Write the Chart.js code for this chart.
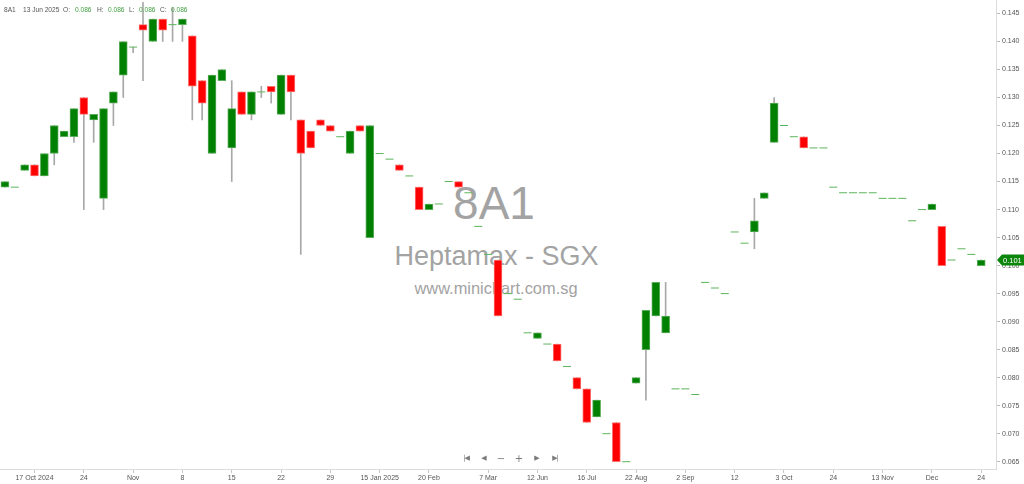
<!DOCTYPE html>
<html>
<head>
<meta charset="utf-8">
<script src="https://cdn.jsdelivr.net/npm/chart.js@4.4.1/dist/chart.umd.min.js"></script>
<style>
html,body{margin:0;padding:0;background:#fff;}
#wrap{position:relative;width:1024px;height:484px;overflow:hidden;background:#fff;}
#wm{position:absolute;left:0;top:0;width:996px;height:469px;z-index:0;font-family:'Liberation Sans',Arial,sans-serif;color:#a3a3a3;}
.wm{position:absolute;white-space:nowrap;text-align:center;line-height:1;}
#c{position:absolute;left:0;top:0;z-index:1;}
.hd{position:absolute;top:7px;z-index:2;font:6.6px 'Liberation Sans',Arial,sans-serif;color:#555;white-space:nowrap;line-height:1;}
.hv{color:#3f9f3f;}
.nv{position:absolute;z-index:2;width:14px;text-align:center;color:#7a7a7a;font-family:'DejaVu Sans',sans-serif;line-height:1;white-space:nowrap;}
</style>
</head>
<body>
<div id="wrap">
  <div id="wm">
    <div class="wm" style="left:0;width:988px;top:180px;font-size:46px;">8A1</div>
    <div class="wm" style="left:0;width:993px;top:243px;font-size:27px;">Heptamax - SGX</div>
    <div class="wm" style="left:0;width:992px;top:280px;font-size:16.4px;">www.minichart.com.sg</div>
  </div>
  <canvas id="c" width="1024" height="484"></canvas>
  <div class="hd" style="left:4px;">8A1</div>
  <div class="hd" style="left:23px;">13 Jun 2025</div>
  <div class="hd" style="left:63px;">O:</div>
  <div class="hd hv" style="left:75px;">0.086</div>
  <div class="hd" style="left:97px;">H:</div>
  <div class="hd hv" style="left:108px;">0.086</div>
  <div class="hd" style="left:129px;">L:</div>
  <div class="hd hv" style="left:139px;">0.086</div>
  <div class="hd" style="left:160px;">C:</div>
  <div class="hd hv" style="left:171px;">0.086</div>
  <div class="nv" style="left:459px;top:455px;font-size:7px;letter-spacing:-1px;">|◀</div>
  <div class="nv" style="left:477px;top:455px;font-size:7px;">◀</div>
  <div class="nv" style="left:494px;top:454px;font-size:10px;">−</div>
  <div class="nv" style="left:512px;top:454px;font-size:10px;">+</div>
  <div class="nv" style="left:530px;top:455px;font-size:7px;">▶</div>
  <div class="nv" style="left:548px;top:455px;font-size:7px;letter-spacing:-1px;">▶|</div>
</div>
<script>
const tickIdx  = [3, 8, 13, 18, 23, 28, 33, 38, 43, 49, 54, 59, 64, 69, 74, 79, 84, 89, 94, 99];
const tickText = ['17 Oct 2024','24','Nov','8','15','22','29','15 Jan 2025','20 Feb','7 Mar','12 Jun','16 Jul','22 Aug','2 Sep','12','3 Oct','24','13 Nov','Dec','24'];
const yTicks = [0.065,0.070,0.075,0.080,0.085,0.090,0.095,0.100,0.105,0.110,0.115,0.120,0.125,0.130,0.135,0.140,0.145];
const yRange = [0.0637, 0.1474];

const opens = [
 0.114,0.114,0.117,0.118,0.116,0.120,0.123,0.123,0.130,0.126,
 0.112,0.129,0.134,0.139,0.143,0.140,0.144,0.143,0.143,0.141,
 0.133,0.120,0.133,0.121,0.131,0.127,0.131,0.132,0.127,0.134,
 0.126,0.124,0.126,0.125,0.123,0.120,0.125,0.105,0.120,0.119,
 0.118,0.116,0.114,0.110,0.111,0.115,0.115,0.113,0.107,0.102,
 0.101,0.095,0.094,0.088,0.087,0.086,0.086,0.082,0.080,0.078,
 0.073,0.070,0.072,0.065,0.079,0.085,0.091,0.088,0.078,0.078,
 0.077,0.097,0.096,0.095,0.106,0.104,0.106,0.112,0.122,0.125,
 0.123,0.123,0.121,0.121,0.114,0.113,0.113,0.113,0.113,0.112,
 0.112,0.112,0.108,0.110,0.110,0.107,0.101,0.103,0.102,0.100];
const highs = [
 0.115,0.114,0.118,0.118,0.120,0.125,0.124,0.128,0.130,0.127,
 0.128,0.131,0.140,0.139,0.147,0.144,0.144,0.146,0.144,0.141,
 0.133,0.134,0.135,0.133,0.131,0.131,0.132,0.132,0.134,0.134,
 0.126,0.124,0.126,0.125,0.123,0.124,0.125,0.125,0.120,0.119,
 0.118,0.116,0.114,0.111,0.111,0.115,0.115,0.113,0.107,0.102,
 0.101,0.095,0.094,0.088,0.088,0.086,0.086,0.082,0.080,0.078,
 0.076,0.070,0.072,0.065,0.080,0.092,0.097,0.097,0.078,0.078,
 0.077,0.097,0.096,0.095,0.106,0.104,0.112,0.113,0.130,0.125,
 0.123,0.123,0.121,0.121,0.114,0.113,0.113,0.113,0.113,0.112,
 0.112,0.112,0.108,0.110,0.111,0.107,0.101,0.103,0.102,0.101];
const lows = [
 0.114,0.114,0.117,0.116,0.116,0.118,0.123,0.122,0.110,0.122,
 0.110,0.125,0.130,0.138,0.133,0.140,0.140,0.140,0.140,0.126,
 0.126,0.120,0.133,0.115,0.127,0.126,0.130,0.129,0.127,0.126,
 0.102,0.121,0.125,0.124,0.123,0.120,0.124,0.105,0.120,0.119,
 0.117,0.116,0.110,0.110,0.111,0.115,0.114,0.113,0.107,0.102,
 0.091,0.095,0.094,0.088,0.087,0.086,0.083,0.082,0.078,0.072,
 0.073,0.070,0.065,0.065,0.079,0.076,0.091,0.088,0.078,0.078,
 0.077,0.097,0.096,0.095,0.106,0.104,0.103,0.112,0.122,0.125,
 0.123,0.121,0.121,0.121,0.114,0.113,0.113,0.113,0.113,0.112,
 0.112,0.112,0.108,0.110,0.110,0.100,0.101,0.103,0.102,0.100];
const closes = [
 0.115,0.114,0.118,0.116,0.120,0.125,0.124,0.128,0.127,0.127,
 0.128,0.131,0.140,0.139,0.142,0.144,0.142,0.143,0.144,0.132,
 0.129,0.134,0.135,0.128,0.127,0.131,0.131,0.131,0.134,0.131,
 0.120,0.121,0.125,0.124,0.123,0.124,0.124,0.125,0.120,0.119,
 0.117,0.116,0.110,0.111,0.111,0.115,0.114,0.113,0.107,0.102,
 0.091,0.095,0.094,0.088,0.088,0.086,0.083,0.082,0.078,0.072,
 0.076,0.070,0.065,0.065,0.080,0.092,0.097,0.091,0.078,0.078,
 0.077,0.097,0.096,0.095,0.106,0.104,0.108,0.113,0.129,0.125,
 0.123,0.121,0.121,0.121,0.114,0.113,0.113,0.113,0.113,0.112,
 0.112,0.112,0.108,0.110,0.111,0.100,0.101,0.103,0.102,0.101];

const UP = '#008000', UP_EDGE = '#5aad5a';
const DN = '#ff0000', DN_EDGE = '#ff7070';
const WICK = '#a8a8a8', DOJI = '#5cb45c';

const labels = Array.from({length: opens.length + 1}, () => '');
tickIdx.forEach((k, j) => { labels[k] = tickText[j]; });

const bodies = opens.map((o, i) => o === closes[i] ? null : [o, closes[i]]);
const wicks  = lows.map((l, i) => l === highs[i] ? null : [l, highs[i]]);
const dojis  = opens.map((o, i) => o === closes[i] ? o : null);
const isUp = i => closes[i] >= opens[i];

const lastTag = {
  id: 'lastTag',
  afterDraw(chart) {
    const ys = chart.scales.y;
    const v = closes[closes.length - 1];
    const y = ys.getPixelForValue(v);
    const x0 = chart.chartArea.right + 1;
    const ctx = chart.ctx;
    ctx.save();
    ctx.fillStyle = '#0b860b';
    ctx.beginPath();
    ctx.moveTo(x0, y);
    ctx.lineTo(x0 + 5, y - 5.5);
    ctx.lineTo(chart.width, y - 5.5);
    ctx.lineTo(chart.width, y + 5.5);
    ctx.lineTo(x0 + 5, y + 5.5);
    ctx.closePath();
    ctx.fill();
    ctx.fillStyle = '#ffffff';
    ctx.font = '7.5px "Liberation Sans", Arial, sans-serif';
    ctx.textBaseline = 'middle';
    ctx.textAlign = 'left';
    ctx.fillText(v.toFixed(3), x0 + 6, y + 0.5);
    ctx.restore();
  }
};

new Chart(document.getElementById('c'), {
  type: 'bar',
  data: {
    labels: labels,
    datasets: [
      {
        type: 'line', data: dojis, showLine: false, order: 0,
        pointStyle: 'line', pointRadius: 4, pointHoverRadius: 4,
        borderColor: DOJI, pointBorderColor: DOJI, pointBorderWidth: 1, borderWidth: 1
      },
      {
        data: bodies, order: 1, grouped: false, barThickness: 8,
        backgroundColor: c => isUp(c.dataIndex) ? UP : DN,
        borderColor: c => isUp(c.dataIndex) ? UP_EDGE : DN_EDGE,
        borderWidth: 1, borderSkipped: false
      },
      {
        data: wicks, order: 2, grouped: false, barThickness: 1,
        backgroundColor: WICK, borderWidth: 0
      }
    ]
  },
  options: {
    responsive: false,
    animation: false,
    events: [],
    layout: {padding: 0, autoPadding: false},
    plugins: {legend: {display: false}, tooltip: {enabled: false}},
    scales: {
      x: {
        offset: true,
        grid: {offset: false, drawOnChartArea: false, drawTicks: true, tickLength: 4, tickColor: '#c8c8c8'},
        border: {color: '#dcdcdc'},
        ticks: {autoSkip: false, maxRotation: 0, minRotation: 0, padding: 1, color: '#555',
                font: {family: "'Liberation Sans', Arial, sans-serif", size: 7}},
        afterBuildTicks: s => { s.ticks = tickIdx.map(v => ({value: v})); },
        afterFit: s => { s.height = 15; s.paddingLeft = 0; s.paddingRight = 0; }
      },
      y: {
        position: 'right',
        min: yRange[0], max: yRange[1],
        grid: {drawOnChartArea: false, drawTicks: true, tickLength: 4, tickColor: '#bcbcbc'},
        border: {color: '#dcdcdc'},
        ticks: {padding: 2, color: '#555', font: {family: "'Liberation Sans', Arial, sans-serif", size: 7},
                callback: v => Number(v).toFixed(3)},
        afterBuildTicks: s => { s.ticks = yTicks.map(v => ({value: v})); },
        afterFit: s => { s.width = 28; s.paddingTop = 0; s.paddingBottom = 0; }
      }
    }
  },
  plugins: [lastTag]
});
</script>
</body>
</html>
